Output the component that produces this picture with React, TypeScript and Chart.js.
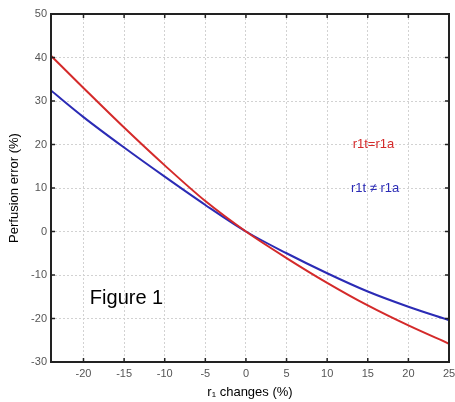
import React, { useEffect, useRef } from "react";
import { Chart, registerables } from "chart.js";

Chart.register(...registerables);

const xValues = [-24, -20, -15, -10, -5, 0, 5, 10, 15, 20, 25];
const redValues = [40.4, 33.0, 23.9, 15.2, 7.0, 0, -6.1, -11.8, -17.0, -21.6, -25.8];
const blueValues = [32.4, 26.3, 19.3, 12.6, 6.1, 0, -5.0, -9.6, -13.8, -17.3, -20.4];
const xTicks = [-20, -15, -10, -5, 0, 5, 10, 15, 20, 25];
const yTicks = [-30, -20, -10, 0, 10, 20, 30, 40, 50];
const redLabel = "r1t=r1a";
const blueLabel = "r1t \u2260 r1a";
const figureLabel = "Figure 1";

const RED = "#d42a2a";
const BLUE = "#2b2bb5";
const FONT = "'Liberation Sans', Arial, sans-serif";

const boxPlugin = {
  id: "boxPlugin",
  afterDraw(chart: any) {
    const { ctx, chartArea } = chart;
    const xs = chart.scales.x;
    const ys = chart.scales.y;
    ctx.save();
    ctx.strokeStyle = "#222";
    ctx.lineWidth = 2;
    ctx.strokeRect(chartArea.left, chartArea.top, chartArea.right - chartArea.left, chartArea.bottom - chartArea.top);
    ctx.lineWidth = 1.5;
    ctx.beginPath();
    xTicks.forEach((t) => {
      const px = xs.getPixelForValue(t);
      ctx.moveTo(px, chartArea.bottom);
      ctx.lineTo(px, chartArea.bottom - 4);
      ctx.moveTo(px, chartArea.top);
      ctx.lineTo(px, chartArea.top + 4);
    });
    yTicks.forEach((t) => {
      const py = ys.getPixelForValue(t);
      ctx.moveTo(chartArea.left, py);
      ctx.lineTo(chartArea.left + 4, py);
      ctx.moveTo(chartArea.right, py);
      ctx.lineTo(chartArea.right - 4, py);
    });
    ctx.stroke();

    ctx.textAlign = "center";
    ctx.textBaseline = "middle";
    ctx.font = `13px ${FONT}`;
    ctx.fillStyle = RED;
    ctx.fillText(redLabel, xs.getPixelForValue(15.7), ys.getPixelForValue(20));
    ctx.fillStyle = BLUE;
    ctx.fillText(blueLabel, xs.getPixelForValue(15.9), ys.getPixelForValue(10));
    ctx.fillStyle = "#000";
    ctx.font = `20px ${FONT}`;
    ctx.fillText(figureLabel, xs.getPixelForValue(-14.7), ys.getPixelForValue(-15.3));
    ctx.restore();
  },
};

export default function App() {
  const ref = useRef<HTMLCanvasElement | null>(null);
  useEffect(() => {
    if (!ref.current) return;
    const chart = new Chart(ref.current, {
      type: "line",
      data: {
        labels: xValues,
        datasets: [
          {
            label: redLabel,
            data: xValues.map((x, i) => ({ x, y: redValues[i] })),
            borderColor: RED,
            borderWidth: 2,
            pointRadius: 0,
            cubicInterpolationMode: "monotone",
            fill: false,
          },
          {
            label: blueLabel,
            data: xValues.map((x, i) => ({ x, y: blueValues[i] })),
            borderColor: BLUE,
            borderWidth: 2,
            pointRadius: 0,
            cubicInterpolationMode: "monotone",
            fill: false,
          },
        ],
      },
      options: {
        animation: false,
        responsive: true,
        maintainAspectRatio: false,
        layout: { padding: { top: 14, right: 0, bottom: 0, left: 0 } },
        plugins: { legend: { display: false }, tooltip: { enabled: false } },
        scales: {
          x: {
            type: "linear",
            min: -24,
            max: 25,
            afterBuildTicks: (s: any) => {
              s.ticks = xTicks.map((v) => ({ value: v }));
            },
            afterFit: (s: any) => {
              s.height = 40;
              s.paddingRight = 6;
            },
            grid: { color: "#d2d2d2", lineWidth: 1, drawTicks: false },
            border: { display: false, dash: [2, 2] },
            ticks: {
              color: "#555",
              font: { family: FONT, size: 11 },
              padding: 5,
              maxRotation: 0,
            },
            title: {
              display: true,
              text: "r\u2081 changes (%)",
              color: "#000",
              font: { family: FONT, size: 13 },
              padding: { top: 0, bottom: 2 },
            },
          },
          y: {
            type: "linear",
            min: -30,
            max: 50,
            afterBuildTicks: (s: any) => {
              s.ticks = yTicks.map((v) => ({ value: v }));
            },
            afterFit: (s: any) => {
              s.width = 51;
            },
            grid: { color: "#d2d2d2", lineWidth: 1, drawTicks: false },
            border: { display: false, dash: [2, 2] },
            ticks: {
              color: "#555",
              font: { family: FONT, size: 11 },
              padding: 4,
            },
            title: {
              display: true,
              text: "Perfusion error (%)",
              color: "#000",
              font: { family: FONT, size: 13 },
              padding: { top: 7, bottom: 0 },
            },
          },
        },
      },
      plugins: [boxPlugin],
    } as any);
    return () => chart.destroy();
  }, []);
  return (
    <div style={{ position: "absolute", left: 0, top: 0, width: 455, height: 402, background: "#fff" }}>
      <canvas ref={ref} />
    </div>
  );
}
